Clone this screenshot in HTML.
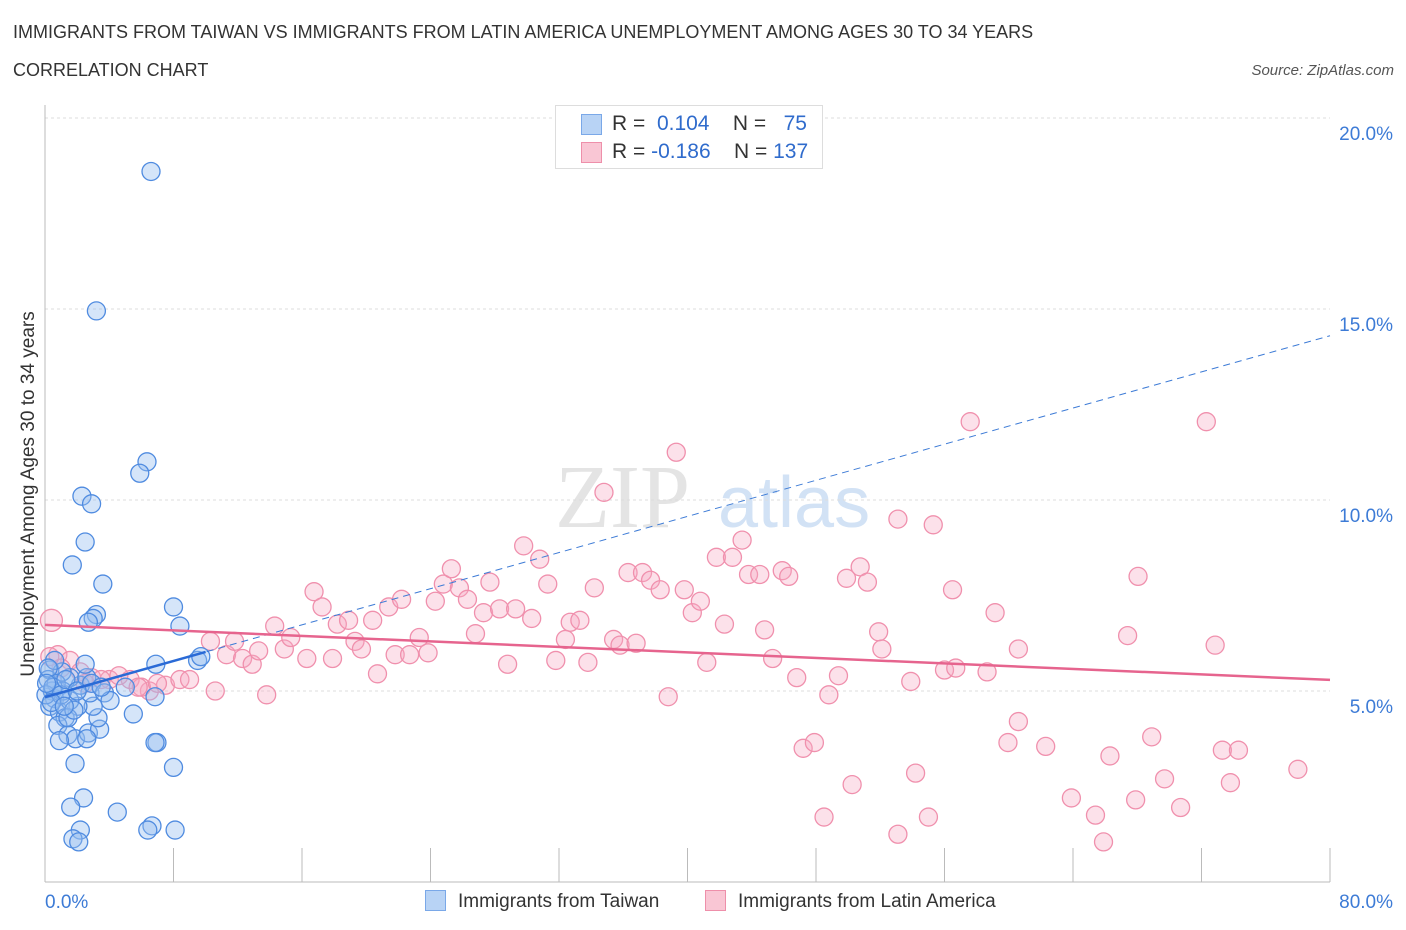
<!DOCTYPE html>
<html><head><meta charset="utf-8"><style>
body{margin:0;background:#fff;font-family:"Liberation Sans",sans-serif;}
#wrap{position:relative;width:1406px;height:930px;overflow:hidden;}
.t{position:absolute;white-space:nowrap;}
</style></head><body>
<div id="wrap">
<div class="t" style="left:13px;top:22px;font-size:18px;color:#333;">IMMIGRANTS FROM TAIWAN VS IMMIGRANTS FROM LATIN AMERICA UNEMPLOYMENT AMONG AGES 30 TO 34 YEARS</div>
<div class="t" style="left:13px;top:60px;font-size:18px;color:#333;">CORRELATION CHART</div>
<div class="t" style="right:12px;top:62px;font-size:15px;color:#555;font-style:italic;">Source: ZipAtlas.com</div>
<svg id="plot" width="1406" height="930" style="position:absolute;left:0;top:0"></svg>
<div class="t" style="left:555px;top:105px;width:266px;height:62px;border:1px solid #ddd;background:#fff;font-size:21px;">
 <div style="position:absolute;left:25px;top:8px;width:19px;height:19px;background:#b8d3f5;border:1px solid #7aa8e8;"></div>
 <div style="position:absolute;left:56px;top:6px;color:#333;">R = &nbsp;<span style="color:#2f6bcc">0.104</span>&nbsp;&nbsp;&nbsp; N = &nbsp;&nbsp;<span style="color:#2f6bcc">75</span></div>
 <div style="position:absolute;left:25px;top:36px;width:19px;height:19px;background:#f9c6d4;border:1px solid #ee8faa;"></div>
 <div style="position:absolute;left:56px;top:34px;color:#333;">R = <span style="color:#2f6bcc">-0.186</span>&nbsp;&nbsp;&nbsp; N = <span style="color:#2f6bcc">137</span></div>
</div>
<div class="t" style="left:425px;top:890px;font-size:19px;color:#333;"><span style="display:inline-block;width:19px;height:19px;background:#b8d3f5;border:1px solid #7aa8e8;vertical-align:-4px;margin-right:12px"></span>Immigrants from Taiwan</div>
<div class="t" style="left:705px;top:890px;font-size:19px;color:#333;"><span style="display:inline-block;width:19px;height:19px;background:#f9c6d4;border:1px solid #ee8faa;vertical-align:-4px;margin-right:12px"></span>Immigrants from Latin America</div>
</div>
<script>
const blueX=[6.6,3.2,6.35,5.9,2.3,2.9,2.5,1.7,3.6,8.0,3.2,3.0,2.7,8.4,6.9,9.5,9.7,6.85,5.0,5.5,6.97,6.85,8.0,1.87,2.4,1.6,4.5,6.66,6.4,8.1,2.2,1.74,2.1,0.3,0.2,0.45,0.6,0.3,0.9,1.25,0.8,1.43,1.9,2.7,3.4,3.3,3.0,2.8,2.2,1.55,1.06,2.6,2.9,3.7,2.05,1.55,0.7,0.06,2.5,1.43,0.9,4.05,2.6,0.6,1.1,0.2,0.5,1.0,1.3,0.4,2.0,1.8,0.1,3.5,1.2];
const blueY=[18.6,14.95,11.0,10.7,10.1,9.9,8.9,8.3,7.8,7.2,7.0,6.9,6.8,6.7,5.7,5.8,5.9,4.85,5.1,4.4,3.65,3.65,3.0,3.1,2.2,1.96,1.83,1.47,1.36,1.36,1.36,1.13,1.05,5.55,5.3,5.0,4.8,4.6,4.45,4.3,4.1,3.85,3.75,3.9,4.0,4.3,4.6,4.95,5.15,5.35,5.5,5.35,5.2,4.95,4.6,4.75,5.2,4.9,5.7,4.3,3.7,4.75,3.75,5.8,5.0,5.6,5.1,4.9,5.3,4.7,5.0,4.5,5.2,5.1,4.6];
const pinkX=[0.4,0.8,1.55,2.2,2.9,4.0,5.3,6.5,7.5,8.4,9.0,10.3,10.6,11.3,11.8,12.3,12.9,13.3,13.8,14.3,14.9,15.3,16.3,16.75,17.25,17.9,18.2,18.9,19.3,19.7,20.4,20.7,21.4,21.8,22.2,22.7,23.3,23.85,24.3,24.8,25.3,25.8,26.3,26.8,27.3,27.7,28.3,28.8,29.3,29.8,30.3,30.8,31.3,31.8,32.4,32.7,33.3,33.8,34.2,34.8,35.4,35.8,36.3,36.8,37.2,37.7,38.3,38.8,39.3,39.8,40.3,40.8,41.2,41.8,42.3,42.8,43.4,43.8,44.5,44.8,45.3,45.9,46.3,46.8,47.2,47.9,48.5,48.8,49.4,49.9,50.25,50.75,51.2,51.9,52.1,53.1,53.1,53.9,54.2,55.0,55.3,56.0,56.5,56.7,57.6,58.65,59.15,59.95,60.6,60.6,62.3,63.9,65.4,65.9,66.3,67.4,67.9,68.05,68.9,69.7,70.7,72.3,72.85,73.3,73.8,74.3,78.0,1.0,3.5,6.0,7.0,4.6,2.5,5.8,0.3];
const pinkY=[6.85,5.95,5.8,5.5,5.35,5.3,5.3,5.0,5.15,5.3,5.3,6.3,5.0,5.95,6.3,5.85,5.7,6.05,4.9,6.7,6.1,6.4,5.85,7.6,7.2,5.85,6.75,6.85,6.3,6.1,6.85,5.45,7.2,5.95,7.4,5.95,6.4,6.0,7.35,7.8,8.2,7.7,7.4,6.5,7.05,7.85,7.15,5.7,7.15,8.8,6.9,8.45,7.8,5.8,6.35,6.8,6.85,5.75,7.7,10.2,6.35,6.2,8.1,6.25,8.1,7.9,7.65,4.85,11.25,7.65,7.05,7.35,5.75,8.5,6.75,8.5,8.95,8.05,8.05,6.6,5.85,8.15,8.0,5.35,3.5,3.65,1.7,4.9,5.4,7.95,2.55,8.25,7.85,6.55,6.1,9.5,1.25,5.25,2.85,1.7,9.35,5.55,7.65,5.6,12.05,5.5,7.05,3.65,4.2,6.1,3.55,2.2,1.75,1.05,3.3,6.45,2.15,8.0,3.8,2.7,1.95,12.05,6.2,3.45,2.6,3.45,2.95,5.6,5.3,5.1,5.2,5.4,5.2,5.1,5.9];
const yTicks=[5,10,15,20];
const yTickLabels=["5.0%","10.0%","15.0%","20.0%"];
const xTicks=[0,8,16,24,32,40,48,56,64,72,80];
const blueTrend=[4.84,14.3];
const pinkTrend=[6.73,5.29];
const NS="http://www.w3.org/2000/svg";
const svg=document.getElementById('plot');
const X0=45,X1=1330,Y0=882,PX=38.2;
const sx=v=>X0+(v/80)*(X1-X0);
const sy=v=>Y0-v*PX;
function mk(tag,attrs){const e=document.createElementNS(NS,tag);for(const k in attrs)e.setAttribute(k,attrs[k]);svg.appendChild(e);return e;}
const wm=mk('text',{x:555,y:527,'font-size':90,fill:'#e4e4e4','font-family':'Liberation Serif'});wm.textContent='ZIP';


const wm2=mk('text',{x:718,y:527,'font-size':72,fill:'#d2e2f5','font-family':'Liberation Sans'});wm2.textContent='atlas';


yTicks.forEach((v,i)=>{
 const g=mk('line',{x1:X0,x2:X1,y1:sy(v),y2:sy(v),stroke:'#ddd','stroke-dasharray':'3,3'});
 
 
 const t=mk('text',{x:1393,y:sy(v)+22,'text-anchor':'end','font-size':19,fill:'#3d7bd6','font-family':'Liberation Sans'});
 t.textContent=yTickLabels[i];
 
 
});
const ax=mk('line',{x1:X0,x2:X0,y1:105,y2:Y0,stroke:'#bbb'});


const bx=mk('line',{x1:X0,x2:X1,y1:Y0,y2:Y0,stroke:'#bbb'});


xTicks.forEach(v=>{
 const l=mk('line',{x1:sx(v),x2:sx(v),y1:Y0-34,y2:Y0,stroke:'#bbb'});
 
 
});
const xl0=mk('text',{x:45,y:908,'font-size':19,fill:'#3d7bd6','font-family':'Liberation Sans'});xl0.textContent='0.0%';


const xl1=mk('text',{x:1393,y:908,'text-anchor':'end','font-size':19,fill:'#3d7bd6','font-family':'Liberation Sans'});xl1.textContent='80.0%';


const yt=mk('text',{x:0,y:0,'font-size':19,fill:'#333','font-family':'Liberation Sans','text-anchor':'middle',transform:'translate(34,494) rotate(-90)'});yt.textContent='Unemployment Among Ages 30 to 34 years';


pinkX.forEach((v,i)=>{
 const c=mk('circle',{cx:sx(v),cy:sy(pinkY[i]),r:i===0?11:9,fill:'rgba(246,170,195,0.35)',stroke:'#f090ad','stroke-width':1.3});
 
 
});
blueX.forEach((v,i)=>{
 const c=mk('circle',{cx:sx(v),cy:sy(blueY[i]),r:9,fill:'rgba(150,190,240,0.4)',stroke:'#4f8be0','stroke-width':1.3});
 
 
});
const bd=mk('line',{x1:sx(0),y1:sy(blueTrend[0]),x2:sx(80),y2:sy(blueTrend[1]),stroke:'#3d7bd6','stroke-width':1,'stroke-dasharray':'7,5'});


const bs=mk('line',{x1:sx(0),y1:sy(blueTrend[0]),x2:sx(10),y2:sy(blueTrend[0]+(blueTrend[1]-blueTrend[0])/8),stroke:'#2a6ad6','stroke-width':2.5});


const pl=mk('line',{x1:sx(0),y1:sy(pinkTrend[0]),x2:sx(80),y2:sy(pinkTrend[1]),stroke:'#e6648e','stroke-width':2.5});


</script>
</body></html>
